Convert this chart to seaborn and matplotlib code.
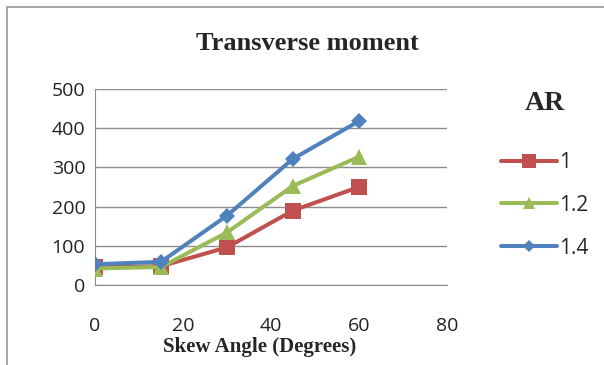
import matplotlib
matplotlib.use("Agg")
import matplotlib.pyplot as plt
import seaborn as sns
import pandas as pd
from matplotlib.patches import Rectangle

skew = [0, 15, 30, 45, 60]
ar_1 = [45, 48, 96, 190, 250]
ar_12 = [42, 46, 134, 253, 327]
ar_14 = [53, 59, 177, 322, 418]
series_names = ["1", "1.2", "1.4"]
x_ticks = [0, 20, 40, 60, 80]
y_ticks = [0, 100, 200, 300, 400, 500]

rows = []
for name, vals in zip(series_names, [ar_1, ar_12, ar_14]):
    for x, v in zip(skew, vals):
        rows.append({"Skew": x, "Moment": v, "AR": name})
df = pd.DataFrame(rows)

sns.set_style("white")
plt.rcParams['font.family'] = ['Open Sans', 'DejaVu Sans']

fig = plt.figure(figsize=(6.04, 3.65), dpi=100)
ax = fig.add_axes([95/604, 1-285/365, (447-95)/604, (285-89)/365])

palette = {"1": "#C0504D", "1.2": "#9BBB59", "1.4": "#4F81BD"}
markers = {"1": "s", "1.2": "^", "1.4": "D"}
sizes_m = {"1": 12, "1.2": 11, "1.4": 8}

for name in series_names:
    sub = df[df["AR"] == name]
    sns.lineplot(data=sub, x="Skew", y="Moment", color=palette[name], marker=markers[name],
                 markersize=sizes_m[name], markeredgewidth=0, linewidth=2.9, ax=ax,
                 label=name, zorder=3)

ax.set_xlim(0, 80)
ax.set_ylim(0, 500)
ax.set_xticks(x_ticks)
ax.set_yticks(y_ticks)
ax.yaxis.grid(True, color="#8c8c8c", linewidth=1)
ax.xaxis.grid(False)
for s in ["top", "right"]:
    ax.spines[s].set_visible(False)
ax.spines["left"].set_color("#8c8c8c")
ax.spines["bottom"].set_color("#8c8c8c")
ax.tick_params(axis="x", direction="out", length=9, width=1, color="#8c8c8c", pad=14,
               labelsize=14, labelcolor="#222222")
ax.tick_params(axis="y", direction="out", length=5, width=1, color="#8c8c8c", pad=2,
               labelsize=14, labelcolor="#222222")
ax.set_xlabel("")
ax.set_ylabel("")

fig.text(307/604, 1 - 43/365, "Transverse moment", ha="center", va="center",
         fontsize=19, fontweight="bold", family="Liberation Serif")
fig.text(260/604, 1 - 347/365, "Skew Angle (Degrees)", ha="center", va="center",
         fontsize=15, fontweight="bold", family="Liberation Serif")

handles, labels = ax.get_legend_handles_labels()
leg = ax.legend(handles, labels, loc="upper left", bbox_to_anchor=(482/604, 1-72/365),
                bbox_transform=fig.transFigure, frameon=False, fontsize=15,
                title="AR", title_fontproperties={"family": "Liberation Serif", "weight": "bold", "size": 20},
                labelspacing=1.05, handlelength=2.7, handletextpad=0.1, markerscale=0.8)
leg._legend_box.sep = 26

fig.patches.append(Rectangle((7/604, -0.05), 1.0, 1.05 - 7/365, transform=fig.transFigure,
                             fill=False, edgecolor="#9a9a9a", linewidth=1.2))

fig.savefig("out.png", dpi=100)
